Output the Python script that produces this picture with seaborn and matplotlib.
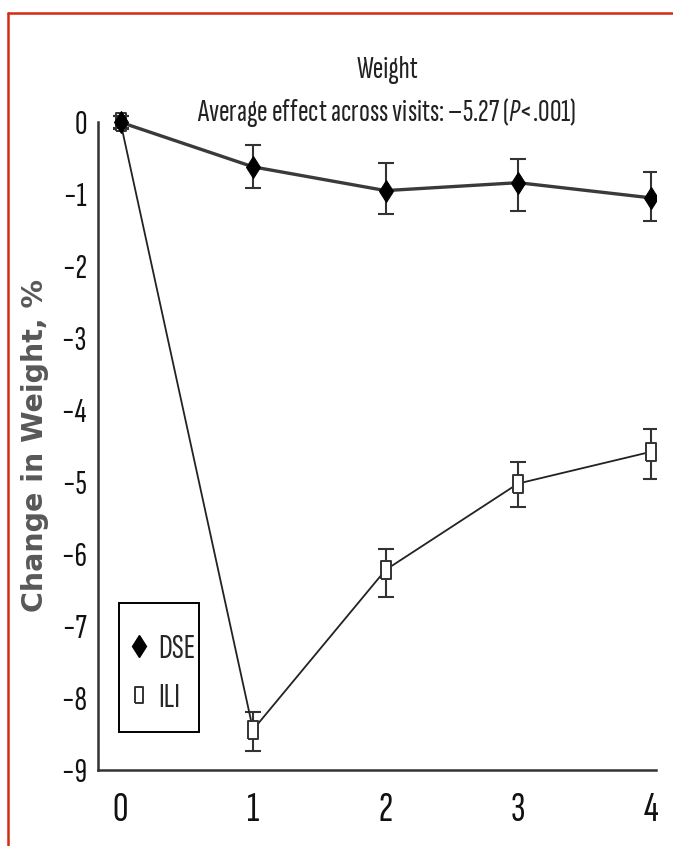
import matplotlib
matplotlib.use("Agg")
import matplotlib.pyplot as plt
from matplotlib.lines import Line2D
from matplotlib.patches import Rectangle
import seaborn as sns
import pandas as pd

# valores
visits = [0, 1, 2, 3, 4]
dse_mean = [0.0, -0.62, -0.95, -0.84, -1.05]
dse_lo = [-0.08, -0.91, -1.27, -1.23, -1.37]
dse_hi = [0.08, -0.31, -0.57, -0.51, -0.69]
ili_mean = [0.0, -8.44, -6.22, -5.02, -4.58]
ili_lo = [-0.09, -8.73, -6.60, -5.35, -4.95]
ili_hi = [0.09, -8.19, -5.93, -4.72, -4.26]
y_ticks = [0, -1, -2, -3, -4, -5, -6, -7, -8, -9]

narrow = 'Sofia Sans Extra Condensed'

sns.set_style("white")
plt.rcParams['font.family'] = [narrow, 'DejaVu Sans']
plt.rcParams['mathtext.fontset'] = 'custom'
plt.rcParams['mathtext.it'] = narrow + ':italic'
plt.rcParams['mathtext.rm'] = narrow

df = pd.DataFrame({'visit': visits * 2,
                   'change': dse_mean + ili_mean,
                   'group': ['DSE'] * 5 + ['ILI'] * 5})

fig = plt.figure(figsize=(6.73, 8.46), dpi=100)
ax = fig.add_axes([0.1456, 0.0898, 0.829, 0.787])

rect = [(-0.5, -1), (0.5, -1), (0.5, 1), (-0.5, 1), (-0.5, -1)]
dark = '#333333'

# ILI
ili = df[df['group'] == 'ILI']
ax.errorbar(visits, ili_mean,
            yerr=[[m - l for m, l in zip(ili_mean, ili_lo)], [h - m for m, h in zip(ili_mean, ili_hi)]],
            fmt='none', ecolor=dark, elinewidth=1.5, capsize=6, capthick=1.5, zorder=2)
sns.lineplot(data=ili, x='visit', y='change', ax=ax, color='#222222', linewidth=1.3,
             marker=rect, markersize=13.5, markerfacecolor='white', markeredgecolor=dark,
             markeredgewidth=1.4, zorder=3)

# DSE
dse = df[df['group'] == 'DSE']
ax.errorbar(visits, dse_mean,
            yerr=[[m - l for m, l in zip(dse_mean, dse_lo)], [h - m for m, h in zip(dse_mean, dse_hi)]],
            fmt='none', ecolor=dark, elinewidth=1.5, capsize=6, capthick=1.5, zorder=4)
sns.lineplot(data=dse, x='visit', y='change', ax=ax, color='#3a3a3a', linewidth=2.4,
             marker='d', markersize=11.5, markerfacecolor='black', markeredgecolor='black', zorder=5)

ax.set_xlim(-0.17, 4.04)
ax.set_ylim(-9, 0.25)
ax.set_xticks(visits)
ax.set_yticks(y_ticks)
ax.tick_params(axis='both', colors=dark, width=1.5)
ax.tick_params(axis='x', length=9.5, pad=6, labelsize=31)
ax.tick_params(axis='y', length=4.5, pad=3.5, labelsize=25)
for lab in ax.get_xticklabels() + ax.get_yticklabels():
    lab.set_color('#111111')
sns.despine(ax=ax)
ax.spines['left'].set_bounds(-9, 0)
for s in ['left', 'bottom']:
    ax.spines[s].set_linewidth(1.8)
    ax.spines[s].set_color(dark)
ax.set_xlabel('')
ax.set_ylabel('')

# leyenda con marco propio
handles = [Line2D([], [], linestyle='none', marker='d', markersize=11.5, color='black'),
           Line2D([], [], linestyle='none', marker=rect, markersize=11.5, markerfacecolor='white',
                  markeredgecolor=dark, markeredgewidth=1.4)]
leg = ax.legend(handles, ['DSE', 'ILI'], loc='center left', bbox_to_anchor=(0.055, 0.145),
                fontsize=25, frameon=False, labelspacing=0.55, handlelength=0.6,
                handletextpad=0.25, borderaxespad=0, borderpad=0)
ax.add_patch(Rectangle((0.0368, 0.057), 0.1435, 0.1935, transform=ax.transAxes, fill=False,
                       edgecolor='black', linewidth=1.4, zorder=6))

fig.text(0.575, 1 - 78 / 846, 'Weight', ha='center', va='baseline', fontsize=23, color='#222222')
fig.text(0.575, 1 - 121 / 846, 'Average effect across visits: \u20135.27 ($\\it{P}$<.001)',
         ha='center', va='baseline', fontsize=23, color='#222222')
fig.text(35 / 673, 1 - 446 / 846, 'Change in Weight, %', rotation=90, ha='center', va='center',
         fontsize=20.5, fontweight='bold', color='#585858', family=['DejaVu Sans'])

# marco rojo
fig.add_artist(Line2D([8 / 673, 1], [1 - 13 / 846, 1 - 13 / 846], color='#d42a10', linewidth=1.8))
fig.add_artist(Line2D([8 / 673, 8 / 673], [0, 1 - 13 / 846], color='#d42a10', linewidth=1.8))

fig.savefig('out.png', dpi=100)
